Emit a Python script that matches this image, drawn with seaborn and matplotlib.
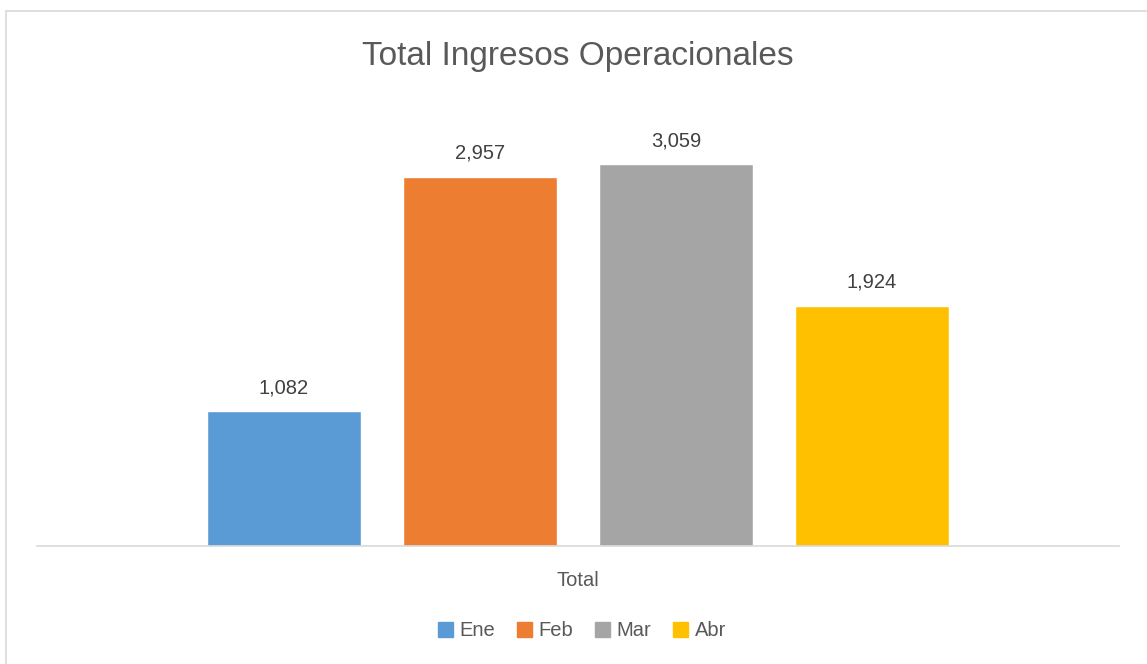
import matplotlib
matplotlib.use("Agg")
import matplotlib.pyplot as plt
import seaborn as sns
import pandas as pd
from matplotlib.patches import Rectangle

# Datos del gráfico
meses = ["Ene", "Feb", "Mar", "Abr"]
valores = [1082, 2957, 3059, 1924]
colores = ["#5B9BD5", "#ED7D31", "#A5A5A5", "#FFC000"]
categoria = "Total"

df = pd.DataFrame({"cat": [categoria] * len(meses), "mes": meses, "valor": valores})

sns.set_theme(style="white")
plt.rcParams['font.family'] = ['Liberation Sans', 'DejaVu Sans']
gris = "#595959"

fig = plt.figure(figsize=(11.47, 6.64), dpi=100)
ax = fig.add_axes([37 / 1147, 118 / 664, (1119 - 37) / 1147, 437 / 664])

sns.barplot(data=df, x="cat", y="valor", hue="mes", hue_order=meses,
            palette=colores, width=0.7245, gap=0.21, saturation=1,
            ax=ax, legend=False)

ax.set_ylim(0, 3500)
ax.set_xlim(-0.5, 0.5)
for c in ax.containers:
    ax.bar_label(c, labels=[f"{v:,.0f}" for v in c.datavalues],
                 padding=10, fontsize=14.5, color="#404040")

for s in ["top", "right", "left"]:
    ax.spines[s].set_visible(False)
ax.spines["bottom"].set_color("#D9D9D9")
ax.spines["bottom"].set_linewidth(1.2)
ax.set_yticks([])
ax.set_xlabel("")
ax.set_ylabel("")
ax.tick_params(axis="x", length=0, pad=18, labelsize=14.5, labelcolor=gris)

fig.text(578 / 1147, 1 - 57 / 664, "Total Ingresos Operacionales",
         ha="center", va="center", fontsize=24, color=gris)

# Leyenda
handles = [Rectangle((0, 0), 1, 1, color=c) for c in colores]
fig.legend(handles, meses, loc="center", bbox_to_anchor=(582 / 1147, 1 - 631 / 664),
           ncol=4, frameon=False, fontsize=14.5, labelcolor=gris,
           handlelength=0.75, handleheight=0.75, handletextpad=0.3, columnspacing=1.1)

# Borde del gráfico
fig.patches.append(Rectangle((6 / 1147, -0.01), 1.02, 1 - 11 / 664 + 0.01,
                             transform=fig.transFigure, fill=False,
                             edgecolor="#D9D9D9", linewidth=1.2))

fig.savefig("out.png", dpi=100)
